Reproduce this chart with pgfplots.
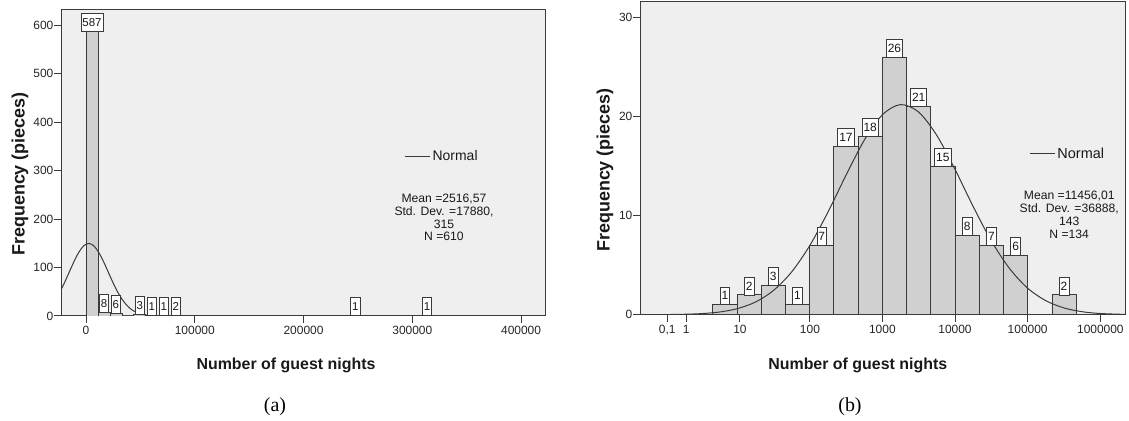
\documentclass[border=0pt]{standalone}
\usepackage{fontspec}
\setmainfont{Liberation Sans}
\newfontfamily\capfont{Liberation Serif}
\usepackage{pgfplots}
\pgfplotsset{compat=1.18}
\definecolor{bgc}{HTML}{EFEFEF}
\definecolor{barc}{HTML}{D0D0D0}
\definecolor{framec}{HTML}{3A3A3A}
\pgfplotsset{
  spss/.style={
    scale only axis,
    axis background/.style={fill=bgc},
    axis line style={framec, line width=1bp},
    tick align=outside,
    xtick pos=bottom, ytick pos=left,
    major tick length=7bp,
    tick style={framec, line width=1bp},
    ticklabel style={font=\fontsize{12}{12}\selectfont, text=black!85},
    yticklabel style={inner xsep=0.5bp},
    /pgf/number format/assume math mode=true,
    /pgf/number format/fixed,
    /pgf/number format/1000 sep={},
    scaled ticks=false,
    label style={font=\bfseries\fontsize{16}{16}\selectfont, text=black!90},
    legend image code/.code={\draw[#1] (0bp,0bp) -- (25bp,0bp);},
  },
  bars/.style={ybar interval, fill=barc, draw=framec, line width=0.8bp, forget plot},
  lbls/.style={draw=none, forget plot, nodes near coords, point meta=y,
    nodes near coords style={font=\fontsize{11.5}{11.5}\selectfont, fill=white, draw=framec,
      line width=0.7bp, inner xsep=1.5bp, inner ysep=4.8bp, text height=8.3bp, text depth=0bp,
      anchor=south, outer sep=0pt, text=black!90}},
}
\begin{document}
\begin{tikzpicture}
\useasboundingbox (0,0) rectangle (1129bp,421bp);
% ---------------- (a) ----------------
\begin{axis}[spss,
  at={(61bp,105bp)}, anchor=south west,
  width=484bp, height=306bp,
  xmin=-23000, xmax=422000, ymin=0, ymax=631,
  xtick={0,100000,200000,300000,400000},
  xticklabels={0,100000,200000,300000,400000},
  ytick={0,100,200,300,400,500,600},
  yticklabels={0,100,200,300,400,500,600},
  xlabel={Number of guest nights},
  ylabel={Frequency (pieces)},
  xlabel style={at={([yshift=-49bp]rel axis cs:0.4649,0)}, anchor=center},
  ylabel style={at={([xshift=-41bp]rel axis cs:0,0.464)}, anchor=center, font=\bfseries\fontsize{18}{18}\selectfont},
  legend style={draw=none, fill=none, at={(rel axis cs:0.709,0.5206)}, anchor=west,
    inner sep=0pt, font=\fontsize{14}{14}\selectfont, text=black!90, nodes={inner sep=2.3bp}},
]
\addplot[bars] coordinates {(0,587) (11000,8) (22000,6) (33000,0) (44000,3) (55000,1) (66000,1) (77000,2) (88000,0)};
\addplot[bars] coordinates {(242000,1) (253000,0)};
\addplot[bars] coordinates {(308000,1) (319000,0)};
\addplot[lbls] coordinates {(5500,587) (16500,8) (27500,6) (49500,3) (60500,1) (71500,1) (82500,2) (247500,1) (313500,1)};
\addplot[framec, line width=1bp, smooth] coordinates {
(-24303,48.6) (-19833,68.5) (-15363,90.8) (-10893,113.0) (-6423,132.1) (-1953,145.1)
(2517,149.7) (6987,145.1) (11457,132.1) (15927,113.0) (20397,90.8) (24867,68.5)
(29337,48.6) (33807,32.4) (38277,20.3) (42747,11.9) (47217,6.6) (51687,3.4)
(56157,1.7) (60627,0.76) (65097,0.33) (69567,0.13) (74037,0.05) (78507,0.02) (82977,0)};
\addlegendentry{Normal}
\node[align=center, font=\fontsize{12.2}{12.9}\selectfont, text=black!90, inner sep=0pt]
  at (rel axis cs:0.7913,0.3219) {Mean =2516,57\\Std. Dev. =17880,\\315\\N =610};
\end{axis}
% ---------------- (b) ----------------
\begin{axis}[spss,
  at={(640bp,106.3bp)}, anchor=south west,
  width=485bp, height=312.7bp,
  xmin=-0.334, xmax=6.339, ymin=0, ymax=31.54,
  xtick={0.0414,0.301,1.0414,2.0043,3.0004,4,5,6},
  xticklabels={{0,1},1,10,100,1000,10000,100000,1000000},
  ytick={0,10,20,30},
  yticklabels={0,10,20,30},
  xlabel={Number of guest nights},
  ylabel={Frequency (pieces)},
  xlabel style={at={([yshift=-50.3bp]rel axis cs:0.449,0)}, anchor=center},
  ylabel style={at={([xshift=-35bp]rel axis cs:0,0.4627)}, anchor=center, font=\bfseries\fontsize{18}{18}\selectfont},
  legend style={draw=none, fill=none, at={(rel axis cs:0.802,0.514)}, anchor=west,
    inner sep=0pt, font=\fontsize{14.5}{14.5}\selectfont, text=black!90, nodes={inner sep=2.3bp}},
]
\addplot[bars] coordinates {(0.6667,1) (1,2) (1.3333,3) (1.6667,1) (2,7) (2.3333,17) (2.6667,18) (3,26) (3.3333,21) (3.6667,15) (4,8) (4.3333,7) (4.6667,6) (5,0) (5.3333,2) (5.6667,0)};
\addplot[lbls, nodes near coords style={font=\fontsize{12}{12}\selectfont}] coordinates {(0.8333,1) (1.1667,2) (1.5,3) (1.8333,1) (2.1667,7) (2.5,17) (2.8333,18) (3.1667,26) (3.5,21) (3.8333,15) (4.1667,8) (4.5,7) (4.8333,6) (5.5,2)};
\addplot[framec, line width=1bp, smooth] coordinates {
(-0.334,0.003) (0,0.013) (0.25,0.04) (0.5,0.105) (0.75,0.26) (1.0,0.60) (1.25,1.26) (1.5,2.43)
(1.75,4.29) (2.0,6.95) (2.25,10.32) (2.5,14.06) (2.75,17.58) (3.0,20.16) (3.25,21.19)
(3.5,20.44) (3.75,18.08) (4.0,14.66) (4.25,10.91) (4.5,7.44) (4.75,4.66) (5.0,2.67)
(5.25,1.41) (5.5,0.68) (5.75,0.30) (6.0,0.12) (6.339,0.03)};
\addlegendentry{Normal}
\node[align=center, font=\fontsize{12.2}{12.9}\selectfont, text=black!90, inner sep=0pt]
  at (rel axis cs:0.885,0.3198) {Mean =11456,01\\Std. Dev. =36888,\\143\\N =134};
\end{axis}
\node[font=\capfont\fontsize{20}{20}\selectfont] at (275bp,14.3bp) {(a)};
\node[font=\capfont\fontsize{20}{20}\selectfont] at (850bp,14.3bp) {(b)};
\end{tikzpicture}
\end{document}
